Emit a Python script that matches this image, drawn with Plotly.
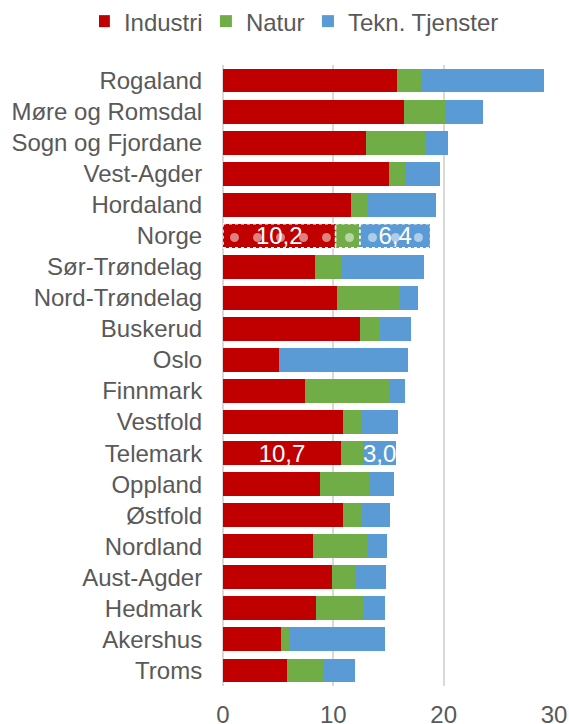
import plotly.graph_objects as go

regions = ["Rogaland", "Møre og Romsdal", "Sogn og Fjordane", "Vest-Agder", "Hordaland",
           "Norge", "Sør-Trøndelag", "Nord-Trøndelag", "Buskerud", "Oslo", "Finnmark",
           "Vestfold", "Telemark", "Oppland", "Østfold", "Nordland", "Aust-Agder",
           "Hedmark", "Akershus", "Troms"]
industri = [15.8, 16.4, 13.0, 15.0, 11.6, 10.2, 8.3, 10.3, 12.4, 5.1, 7.4,
            10.9, 10.7, 8.8, 10.9, 8.2, 9.9, 8.4, 5.3, 5.8]
natur = [2.1, 3.7, 5.4, 1.5, 1.5, 2.2, 2.4, 5.7, 1.8, 0.1, 7.6,
         1.6, 2.0, 4.4, 1.7, 4.9, 2.1, 4.4, 0.8, 3.3]
tekn = [11.2, 3.5, 2.0, 3.2, 6.2, 6.4, 7.5, 1.7, 2.8, 11.6, 1.5,
        3.4, 3.0, 2.3, 2.5, 1.8, 2.8, 1.9, 8.6, 2.9]
series_names = ["Industri", "Natur", "Tekn. Tjenster"]
labeled = ["Norge", "Telemark"]
highlighted = ["Norge"]

colors = {"Industri": "#C00000", "Natur": "#70AD47", "Tekn. Tjenster": "#5B9BD5"}
legend_pad = {"Industri": "\u00a0\u00a0", "Natur": "\u00a0\u00a0", "Tekn. Tjenster": ""}
FONT = "Liberation Sans, Arial, sans-serif"
FS = 24
BARGAP = 0.23


def lbl(vals):
    return [f"{v:.1f}".replace(".", ",") if r in labeled else "" for r, v in zip(regions, vals)]


pattern_shapes = ["." if r in highlighted else "" for r in regions]

fig = go.Figure()
for name, vals, txt in [("Industri", industri, True), ("Natur", natur, False),
                        ("Tekn. Tjenster", tekn, True)]:
    fig.add_trace(go.Bar(
        y=regions, x=vals, name=name + legend_pad[name], orientation="h",
        marker=dict(color=colors[name], line=dict(width=0),
                    pattern=dict(shape=pattern_shapes, fgcolor="white",
                                 bgcolor=colors[name], size=23, solidity=0.12,
                                 fillmode="overlay")),
        text=lbl(vals) if txt else None,
        textposition="inside", insidetextanchor="middle", textangle=0,
        constraintext="none",
        textfont=dict(family=FONT, size=FS, color="white"),
        hoverinfo="skip",
    ))

# dotted selection outlines around the highlighted (Norge) bar segments
for r in highlighted:
    i = regions.index(r)
    start = 0.0
    for vals in (industri, natur, tekn):
        end = start + vals[i]
        fig.add_shape(type="rect", xref="x", yref="y",
                      x0=start, x1=end,
                      y0=i - (1 - BARGAP) / 2, y1=i + (1 - BARGAP) / 2,
                      line=dict(color="white", width=1.5, dash="dot"),
                      fillcolor="rgba(0,0,0,0)", layer="above")
        start = end

fig.update_layout(
    barmode="stack", bargap=BARGAP,
    width=569, height=724,
    margin=dict(l=223, r=15, t=65, b=38, autoexpand=False),
    paper_bgcolor="white", plot_bgcolor="white",
    font=dict(family=FONT, size=FS, color="#595959"),
    showlegend=True,
    legend=dict(orientation="h", xref="paper", yref="paper",
                x=-0.375, xanchor="left", y=1.07, yanchor="middle",
                font=dict(family=FONT, size=FS, color="#595959"),
                traceorder="normal", itemwidth=30, indentation=-15,
                tracegroupgap=0, bgcolor="rgba(0,0,0,0)"),
    xaxis=dict(range=[0, 30], tickvals=[0, 10, 20, 30], showgrid=True,
               gridcolor="#D9D9D9", gridwidth=1.5, zeroline=True,
               zerolinecolor="#D9D9D9", zerolinewidth=1.5, showline=False,
               ticks="outside", ticklen=7, tickcolor="rgba(0,0,0,0)",
               tickfont=dict(family=FONT, size=FS, color="#595959"),
               automargin=False, fixedrange=True),
    yaxis=dict(autorange="reversed", showgrid=False, showline=False,
               ticks="outside", ticklen=15, tickcolor="rgba(0,0,0,0)",
               tickfont=dict(family=FONT, size=FS, color="#595959"),
               automargin=False, fixedrange=True),
)

fig.write_html("out.html", config={"displayModeBar": False},
               post_script="document.body.style.margin='0';document.body.style.overflow='hidden';")
